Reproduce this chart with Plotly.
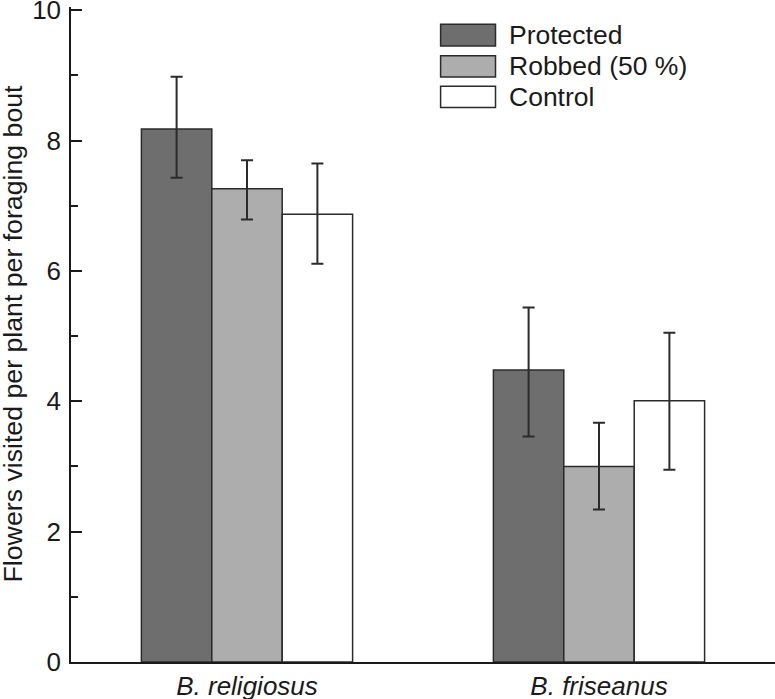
import plotly.graph_objects as go

categories = ["B. religiosus", "B. friseanus"]
series_names = ["Protected", "Robbed (50 %)", "Control"]
protected = [8.18, 4.48]
protected_err_up = [0.80, 0.96]
protected_err_down = [0.75, 1.02]
robbed = [7.26, 3.00]
robbed_err_up = [0.44, 0.67]
robbed_err_down = [0.47, 0.66]
control = [6.87, 4.01]
control_err_up = [0.78, 1.04]
control_err_down = [0.76, 1.06]
y_tick_step = 2
y_minor_step = 1
y_title = "Flowers visited per plant per foraging bout"

colors = ["#6e6e6e", "#adadad", "#ffffff"]
edge = "#2b2b2b"
FONT = "Liberation Sans, Arial, Helvetica, sans-serif"

fig = go.Figure()
data = [
    (protected, protected_err_up, protected_err_down),
    (robbed, robbed_err_up, robbed_err_down),
    (control, control_err_up, control_err_down),
]
for name, (vals, up, down), col in zip(series_names, data, colors):
    fig.add_trace(go.Bar(
        x=categories, y=vals, name=name,
        marker=dict(color=col, line=dict(color=edge, width=1.5)),
        error_y=dict(type="data", array=up, arrayminus=down, symmetric=False,
                     color=edge, thickness=2, width=6),
        showlegend=False,
    ))

# Plot area: window y 10 (value 10) to 662.5 (value 0); range extended slightly so the
# top tick is drawn.
Y_TOP = 10.05
PLOT_H = 652.5 * Y_TOP / 10.0
T_MARGIN = 662.5 - PLOT_H


def py(pix):
    """window pixel y -> paper y"""
    return (662.5 - pix) / PLOT_H


# Custom legend (large boxes like the reference)
box_rows = [(24.0, 45.7), (55.5, 76.7), (86.0, 107.3)]
for (top, bot), col, name in zip(box_rows, colors, series_names):
    fig.add_shape(type="rect", xref="paper", yref="paper",
                  x0=0.525, x1=0.603, y0=py(bot), y1=py(top),
                  fillcolor=col, line=dict(color=edge, width=1.5))
    fig.add_annotation(xref="paper", yref="paper", x=0.620, y=py((top + bot) / 2),
                       text=name, showarrow=False, xanchor="left", yanchor="middle",
                       font=dict(family=FONT, size=26.5, color="#1a1a1a"))

# Y-axis title as annotation for exact placement
fig.add_annotation(xref="paper", yref="paper", x=-0.083, y=py(334), text=y_title,
                   textangle=-90, showarrow=False, xanchor="center", yanchor="middle",
                   font=dict(family=FONT, size=26.7, color="#1a1a1a"))

fig.update_layout(
    width=775, height=699,
    margin=dict(l=71, r=0, t=T_MARGIN, b=699 - 662.5),
    paper_bgcolor="white", plot_bgcolor="white",
    barmode="group", bargap=0.4, bargroupgap=0,
    font=dict(family=FONT, size=26, color="#1a1a1a"),
)
fig.update_xaxes(
    range=[-0.5, 1.5], showline=True, linecolor="#1a1a1a", linewidth=1.5,
    ticks="", showgrid=False, zeroline=False, automargin=False,
    ticklabeloverflow="allow",
    tickfont=dict(family=FONT, size=26, style="italic", color="#1a1a1a"),
)
fig.update_yaxes(
    range=[0, Y_TOP], tickmode="linear", tick0=0, dtick=y_tick_step,
    showline=True, linecolor="#1a1a1a", linewidth=1.5,
    ticks="inside", ticklen=11, tickwidth=1.5, tickcolor="#1a1a1a",
    minor=dict(tickmode="linear", tick0=0, dtick=y_minor_step, ticks="inside",
               ticklen=7, tickwidth=1.5, tickcolor="#1a1a1a"),
    showgrid=False, zeroline=False, automargin=False, ticklabelstandoff=3,
    ticklabeloverflow="allow",
    tickfont=dict(family=FONT, size=26, color="#1a1a1a"),
)

fig.write_html(
    "out.html",
    config={"displayModeBar": False},
    post_script="document.body.style.margin='0';document.body.style.padding='0';"
                "document.documentElement.style.overflow='hidden';",
)
